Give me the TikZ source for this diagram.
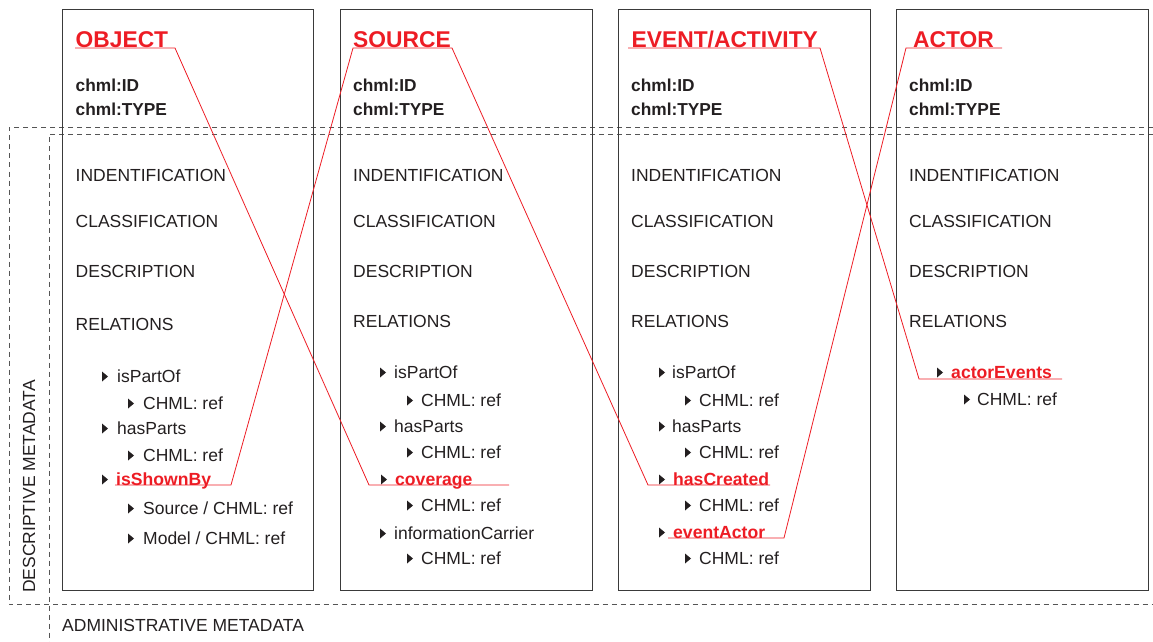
\documentclass[tikz,border=0pt]{standalone}
\usepackage{fontspec}
\setmainfont{Liberation Sans}
\definecolor{cred}{HTML}{ED1C24}
\definecolor{ctext}{HTML}{231F20}
\definecolor{cbox}{HTML}{3A3A3A}
\definecolor{cdash}{HTML}{555555}
\tikzset{
  box/.style={draw=cbox, line width=1.2pt, anchor=north west, inner sep=0pt},
  hdr/.style={anchor=base west, inner sep=0pt, text=cred, font=\fontsize{22.8}{26}\selectfont\bfseries},
  idf/.style={anchor=base west, inner sep=0pt, text=ctext, font=\fontsize{17.3}{20}\selectfont\bfseries},
  lbl/.style={anchor=base west, inner sep=0pt, text=ctext, font=\fontsize{17.5}{20}\selectfont},
  rel/.style={anchor=base west, inner sep=0pt, text=cred, font=\fontsize{17.6}{20}\selectfont\bfseries},
  link/.style={draw=cred, line width=0.8pt},
  dsh/.style={draw=cdash, line width=0.9pt, dash pattern=on 5pt off 4pt},
}
\newcommand\itm[5]{%
  \fill[ctext] (#2,#4-10.5) -- (#2,#4-0.5) -- (#2+6,#4-5.5) -- cycle;
  \node[lbl] (#1) at (#3,#4) {#5};}
\newcommand\ritm[5]{%
  \fill[ctext] (#2,#4-10.5) -- (#2,#4-0.5) -- (#2+6,#4-5.5) -- cycle;
  \node[rel] (#1) at (#3,#4) {#5};}
\newcommand\sections[2]{%
  \node[idf] (#1id) at (#2,92) {chml:ID};
  \node[idf] (#1ty) at (#2,115) {chml:TYPE};
  \node[lbl] (#1ind) at (#2,181) {INDENTIFICATION};
  \node[lbl] (#1cla) at (#2,227) {CLASSIFICATION};
  \node[lbl] (#1des) at (#2,277) {DESCRIPTION};}
\begin{document}
\begin{tikzpicture}[x=1pt,y=-1pt]
\useasboundingbox (0,0) rectangle (1153,642);

% dashed metadata regions
\coordinate (oTR) at (1153,127.5);
\coordinate (oTL) at (9,127.5);
\coordinate (oBL) at (9,604);
\coordinate (oBR) at (1153,604);
\coordinate (iTR) at (1153,134.5);
\coordinate (iTL) at (49,134.5);
\coordinate (iB) at (49,642);
\draw[dsh] (oTR) -- (oTL) -- (oBL) -- (oBR);
\draw[dsh] (iTR) -- (iTL) -- (iB);

\node[lbl, anchor=center, rotate=90] (desc) at (29,486.5) {DESCRIPTIVE METADATA};
\node[lbl] (admin) at (62,631) {ADMINISTRATIVE METADATA};

% boxes
\node[box, minimum width=251pt, minimum height=581pt] (b1) at (62,9) {};
\node[box, minimum width=252pt, minimum height=581pt] (b2) at (340,9) {};
\node[box, minimum width=252pt, minimum height=581pt] (b3) at (618,9) {};
\node[box, minimum width=252pt, minimum height=581pt] (b4) at (896,9) {};

% headers
\node[hdr] (hObj) at (75.5,48) {OBJECT};
\node[hdr] (hSrc) at (353,48) {SOURCE};
\node[hdr] (hEvt) at (631.5,48) {EVENT/ACTIVITY};
\node[hdr] (hAct) at (913,48) {ACTOR};

\sections{a}{75.5}
\sections{b}{353}
\sections{c}{631}
\sections{d}{909}
\node[lbl] (arel) at (75.5,330) {RELATIONS};
\node[lbl] (brel) at (353,327) {RELATIONS};
\node[lbl] (crel) at (631,327) {RELATIONS};
\node[lbl] (drel) at (909,327) {RELATIONS};

% box 1 relations
\itm{a1}{102}{117}{382}{isPartOf}
\itm{a2}{128}{143}{409}{CHML: ref}
\itm{a3}{102}{117}{434}{hasParts}
\itm{a4}{128}{143}{461}{CHML: ref}
\ritm{a5}{102}{116}{485}{isShownBy}
\itm{a6}{128}{143}{514}{Source / CHML: ref}
\itm{a7}{128}{143}{544}{Model / CHML: ref}

% box 2 relations
\itm{b1i}{380}{394}{378}{isPartOf}
\itm{b2i}{407}{421}{406}{CHML: ref}
\itm{b3i}{380}{394}{432}{hasParts}
\itm{b4i}{407}{421}{458}{CHML: ref}
\ritm{b5i}{381}{395}{485}{coverage}
\itm{b6i}{407}{421}{511}{CHML: ref}
\itm{b7i}{380}{394}{539}{informationCarrier}
\itm{b8i}{407}{421}{564}{CHML: ref}

% box 3 relations
\itm{c1i}{659}{672}{378}{isPartOf}
\itm{c2i}{685}{699}{406}{CHML: ref}
\itm{c3i}{659}{672}{432}{hasParts}
\itm{c4i}{685}{699}{458}{CHML: ref}
\ritm{c5i}{659}{673}{485}{hasCreated}
\itm{c6i}{685}{699}{511}{CHML: ref}
\ritm{c7i}{659}{673}{538}{eventActor}
\itm{c8i}{685}{699}{564}{CHML: ref}

% box 4 relations
\ritm{d1i}{937}{951}{378}{actorEvents}
\itm{d2i}{964}{977}{405}{CHML: ref}

% underline end points
\coordinate (objL) at (75,48);   \coordinate (objR) at (175,48);
\coordinate (srcL) at (353,48);  \coordinate (srcR) at (452,48);
\coordinate (evtL) at (628,48);  \coordinate (evtR) at (820,48);
\coordinate (actL) at (906,48);  \coordinate (actR) at (1002,48);
\coordinate (shL) at (115,485);  \coordinate (shR) at (231,485);
\coordinate (cvL) at (369,485);  \coordinate (cvR) at (509,485);
\coordinate (hcL) at (648,485);  \coordinate (hcR) at (770,485);
\coordinate (eaL) at (668,538);  \coordinate (eaR) at (784,538);
\coordinate (aeL) at (919,379);  \coordinate (aeR) at (1062,379);

% red connectors
\draw[link] (objL) -- (objR) -- (cvL) -- (cvR);
\draw[link] (shL) -- (shR) -- (srcL) -- (srcR) -- (hcL) -- (hcR);
\draw[link] (evtL) -- (evtR) -- (aeL) -- (aeR);
\draw[link] (actR) -- (actL) -- (eaR) -- (eaL);
\end{tikzpicture}
\end{document}
